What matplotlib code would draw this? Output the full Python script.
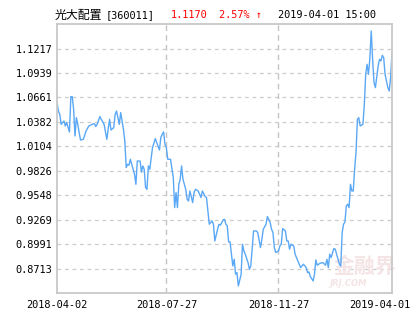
import matplotlib
matplotlib.use('Agg')
import matplotlib.pyplot as plt
import matplotlib.transforms as mtransforms
import numpy as np

# trading-day index and fund NAV
day_idx = [0, 1, 2, 3, 5, 6, 7, 9, 10, 11, 12, 13, 14, 15, 16, 17, 19, 21, 23, 24,
           26, 27, 28, 29, 31, 32, 34, 36, 37, 38, 39, 41, 42, 43, 45, 46, 48, 49, 50, 51,
           52, 53, 55, 56, 57, 58, 60, 61, 62, 63, 64, 65, 66, 67, 69, 70, 71, 73, 74, 75,
           76, 77, 78, 79, 80, 82, 84, 85, 86, 87, 88, 89, 90, 91, 93, 94, 95, 96, 98, 99,
           100, 102, 104, 105, 107, 108, 110, 111, 112, 113, 114, 116, 117, 118, 120, 121, 122, 123, 124, 125,
           127, 128, 129, 130, 131, 133, 134, 135, 136, 138, 139, 140, 142, 144, 145, 147, 148, 149, 151, 152,
           154, 155, 156, 157, 158, 160, 161, 162, 163, 165, 166, 167, 168, 169, 171, 172, 173, 175, 176, 177,
           178, 180, 181, 182, 183, 185, 186, 187, 188, 190, 192, 194, 195, 196, 197, 198, 200, 201, 202, 204,
           205, 206, 207, 208, 209, 210, 211, 212, 213, 214, 215, 216, 217, 218, 219, 221, 222, 223, 224, 225,
           226, 227, 228, 229, 230, 232, 233, 234, 235, 236, 237, 239, 240, 241, 242]
nav = [1.0609, 1.0506, 1.0469, 1.0355, 1.0393, 1.0336, 1.0374, 1.0268, 1.0670, 1.0670,
       1.0526, 1.0222, 1.0431, 1.0355, 1.0261, 1.0176, 1.0184, 1.0279, 1.0336, 1.0344,
       1.0359, 1.0363, 1.0329, 1.0355, 1.0443, 1.0412, 1.0355, 1.0184, 1.0306, 1.0412,
       1.0290, 1.0318, 1.0469, 1.0506, 1.0355, 1.0488, 1.0298, 1.0165, 0.9862, 0.9900,
       0.9889, 0.9957, 0.9843, 0.9786, 0.9672, 0.9937, 0.9937, 0.9812, 0.9881, 0.9843,
       0.9635, 0.9615, 0.9881, 0.9843, 1.0090, 1.0139, 1.0192, 1.0108, 1.0063, 1.0204,
       1.0241, 1.0268, 1.0128, 1.0090, 0.9957, 0.9957, 0.9749, 0.9407, 0.9578, 0.9407,
       0.9672, 0.9729, 0.9881, 0.9729, 0.9615, 0.9502, 0.9482, 0.9596, 0.9464, 0.9578,
       0.9615, 0.9596, 0.9521, 0.9596, 0.9532, 0.9521, 0.9217, 0.9236, 0.9255, 0.9217,
       0.9027, 0.9160, 0.9217, 0.9206, 0.9266, 0.9274, 0.9217, 0.9198, 0.9016, 0.9016,
       0.8743, 0.8819, 0.8648, 0.8667, 0.8515, 0.8648, 0.8990, 0.8913, 0.8876, 0.8781,
       0.8705, 0.8743, 0.9141, 0.9141, 0.9123, 0.8952, 0.9046, 0.9160, 0.9217, 0.9305,
       0.9236, 0.9160, 0.9123, 0.8952, 0.8895, 0.8913, 0.8970, 0.8990, 0.9168, 0.9141,
       0.9027, 0.9027, 0.8933, 0.8990, 0.8970, 0.8876, 0.8838, 0.8762, 0.8724, 0.8743,
       0.8762, 0.8724, 0.8667, 0.8674, 0.8622, 0.8572, 0.8648, 0.8811, 0.8751, 0.8773,
       0.8781, 0.8751, 0.8819, 0.8724, 0.8876, 0.8838, 0.8941, 0.8933, 0.8876, 0.8762,
       0.8743, 0.9123, 0.9217, 0.9243, 0.9425, 0.9445, 0.9407, 0.9672, 0.9596, 0.9596,
       0.9843, 1.0033, 1.0412, 1.0431, 1.0336, 1.0355, 1.0583, 1.0924, 1.1038, 1.0924,
       1.1103, 1.1417, 1.1095, 1.0830, 1.0773, 1.1019, 1.1095, 1.1076, 1.1140, 1.1114,
       1.0924, 1.0773, 1.0734, 1.0887, 1.1170]

y_ticks = [0.8713, 0.8991, 0.9269, 0.9548, 0.9826, 1.0104, 1.0382, 1.0661, 1.0939, 1.1217]
x_tick_idx = [0, 79, 160, 242]
x_tick_labels = ['2018-04-02', '2018-07-27', '2018-11-27', '2019-04-01']

fund_name = '光大配置'
fund_code = '[360011]'
last_nav = '1.1170'
change = '2.57% ↑'
stamp = '2019-04-01 15:00'

mono = ['DejaVu Sans Mono', 'DejaVu Sans']
W, H = 415, 330

fig = plt.figure(figsize=(4.15, 3.3), dpi=100)
ax = fig.add_axes([57 / W, 37 / H, 335 / W, 269 / H])

ax.plot(day_idx, nav, color='#5aa8f5', lw=1.0, solid_joinstyle='round')

step = 0.02784
ax.set_ylim(y_ticks[0] - step, y_ticks[0] + 10 * step)
ax.set_xlim(x_tick_idx[0], x_tick_idx[-1])

ax.set_yticks(y_ticks)
ax.set_yticklabels([f'{v:.4f}' for v in y_ticks], family=mono, fontsize=7.4)
ax.set_xticks(x_tick_idx)
ax.set_xticklabels(x_tick_labels, family=mono, fontsize=7.4)
ax.tick_params(length=0, pad=3.5, colors='black')
ax.tick_params(axis='x', pad=5)

# last label pulled inside the figure
lab = ax.get_xticklabels()[-1]
lab.set_horizontalalignment('right')
lab.set_transform(lab.get_transform() + mtransforms.ScaledTranslation(18 / 100, 0, fig.dpi_scale_trans))

for v in y_ticks:
    ax.axhline(v, color='#cccccc', lw=0.9, ls=(0, (3, 3)), zorder=0)
for i in x_tick_idx[1:-1]:
    ax.axvline(i, color='#c4c4c4', lw=1.0, ls=(0, (4, 3)), zorder=0)

for s in ax.spines.values():
    s.set_color('#c8c8c8')
    s.set_linewidth(1.3)

# watermark
ax.text(0.92, 0.1, '金融界', transform=ax.transAxes, ha='center', va='center',
        fontsize=15, color='#f4e4e5', family=['Noto Sans CJK SC'], fontweight='bold', zorder=0)
ax.text(0.87, 0.035, 'JRJ.COM', transform=ax.transAxes, ha='center', va='center',
        fontsize=6, color='#f4e4e5', style='italic', fontweight='bold', zorder=0)

# header
ty = 1 - 15 / H
fig.text(55 / W, ty, fund_name, ha='left', va='center', fontsize=8.6,
         family=['Noto Sans CJK SC', 'DejaVu Sans'])
fig.text(106 / W, ty, fund_code, ha='left', va='center', fontsize=7.4, family=mono)
fig.text(171 / W, ty, last_nav, ha='left', va='center', fontsize=7.4, family=mono, color='#ff0000')
fig.text(219 / W, ty, change, ha='left', va='center', fontsize=7.4, family=mono, color='#ff0000')
fig.text(278 / W, ty, stamp, ha='left', va='center', fontsize=7.4, family=mono)

fig.savefig('out.png', dpi=100, facecolor='white')
